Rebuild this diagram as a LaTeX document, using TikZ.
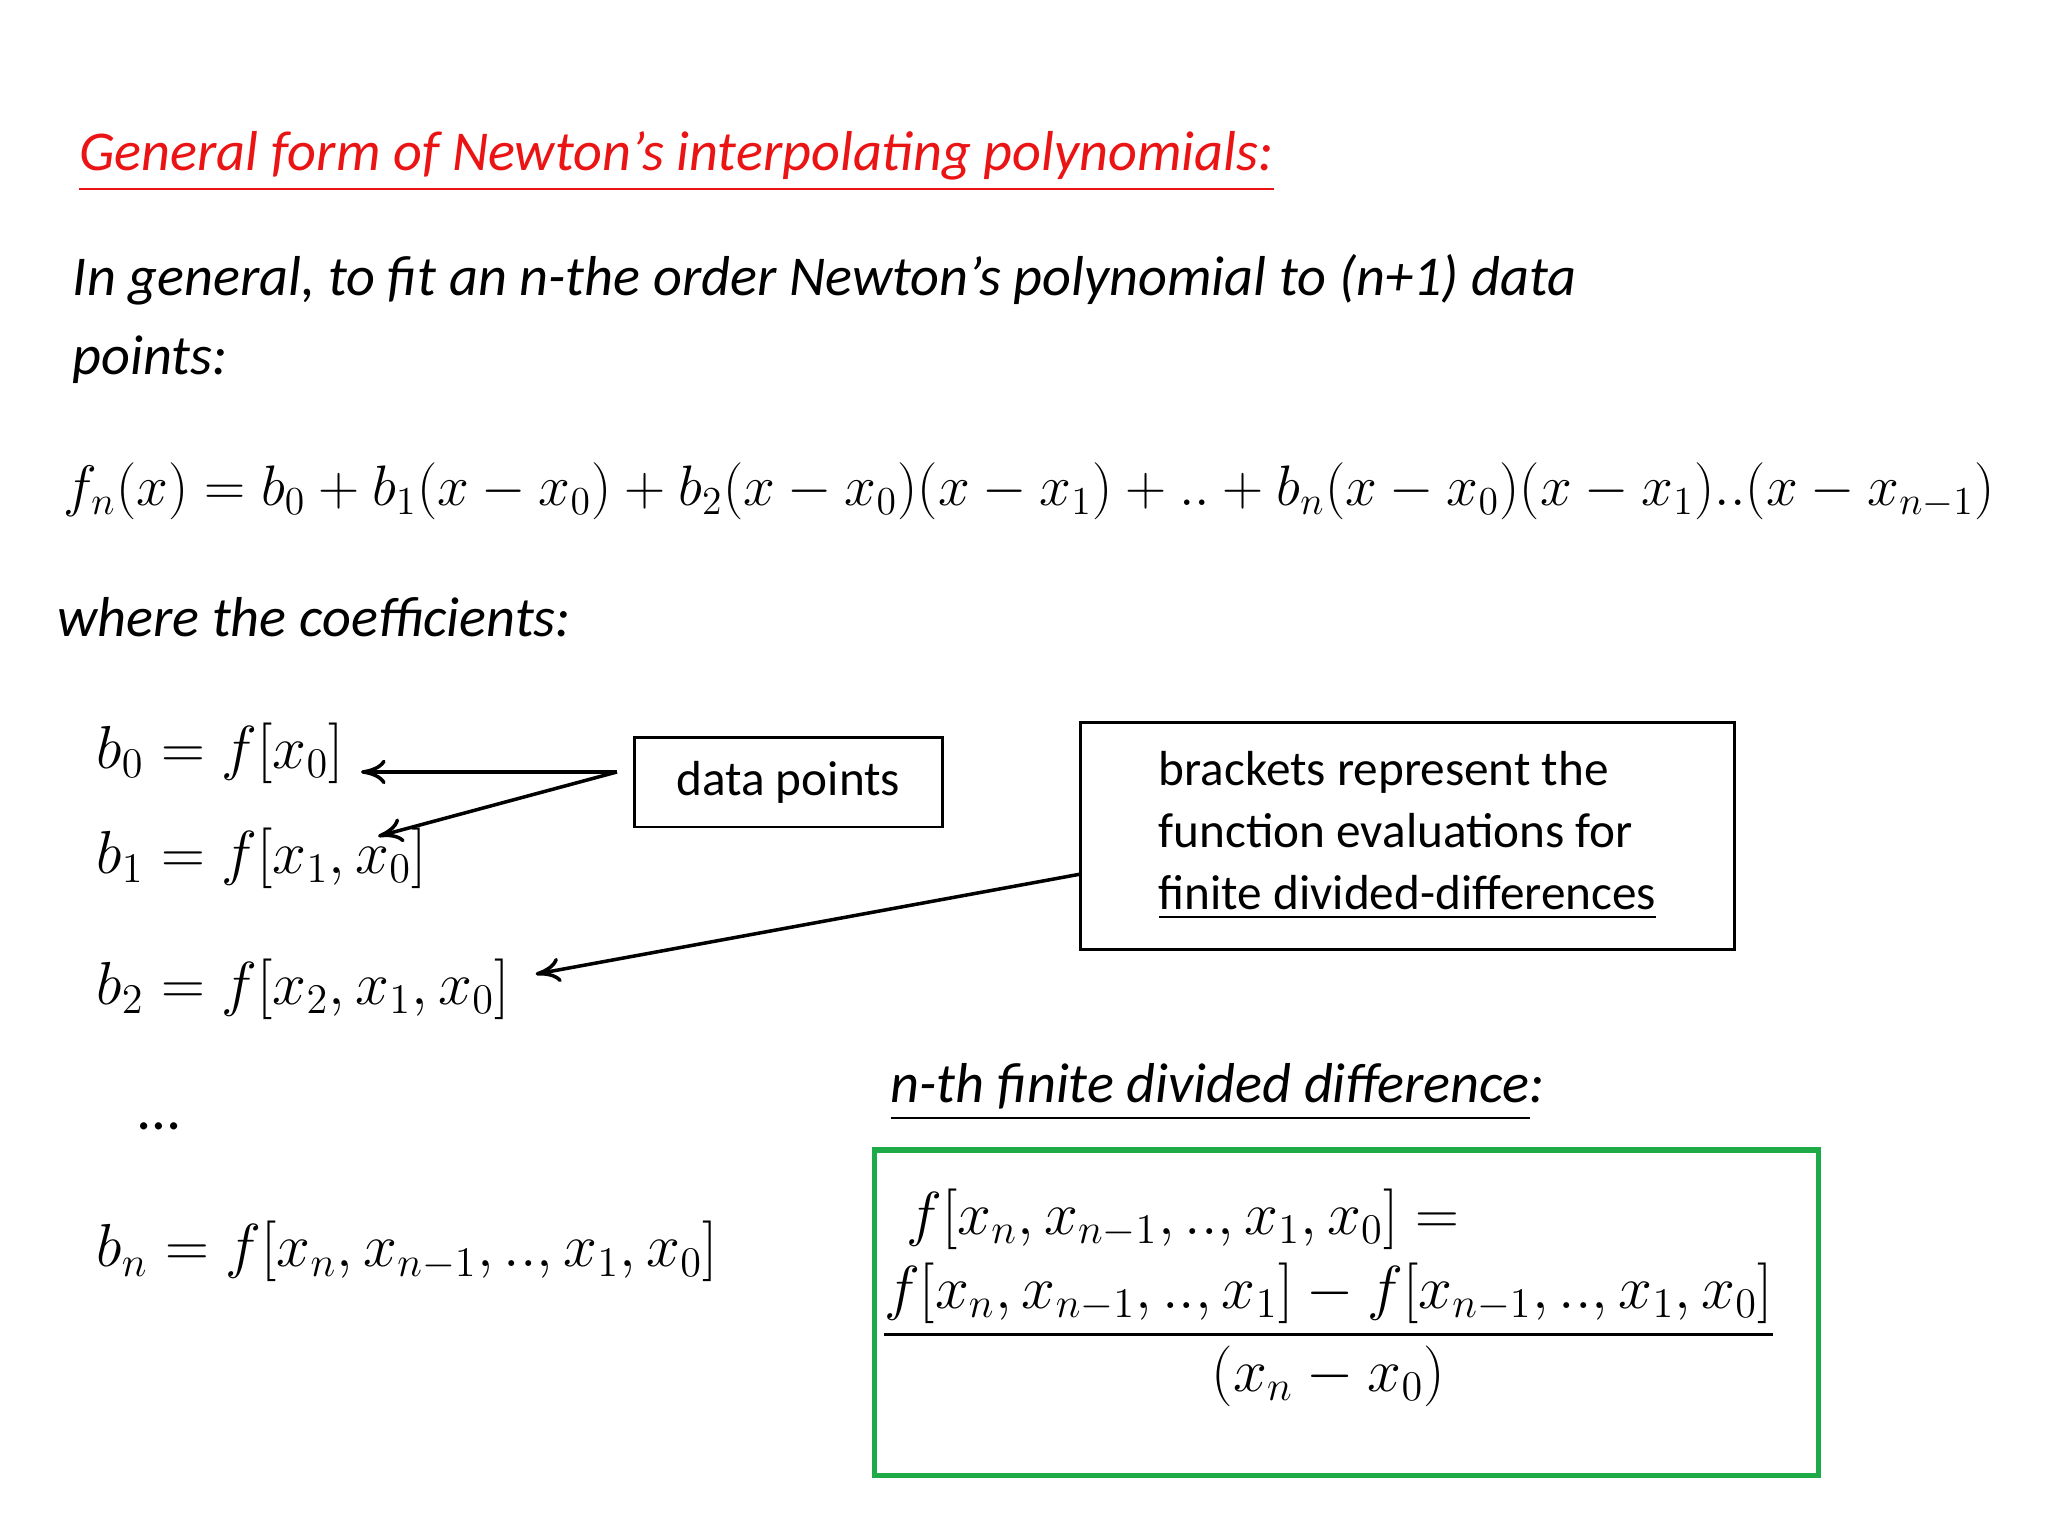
\documentclass[tikz,border=0pt]{standalone}
\usepackage{amsmath}
\usepackage{fontspec}
\setmainfont{Carlito}
\newcommand{\myul}[1]{\underline{#1}}
\usetikzlibrary{arrows.meta}
\definecolor{titlered}{RGB}{235,20,20}
\definecolor{boxgreen}{RGB}{30,170,70}
\tikzset{
  txt/.style={anchor=base west,inner sep=0pt},
  eq/.style={anchor=base west,inner sep=0pt,font=\fontsize{17}{20}\selectfont},
  plainbox/.style={draw,line width=0.8pt},
  arr/.style={-{To[length=7pt,width=7pt]},line width=1pt}
}
\begin{document}
\begin{tikzpicture}[x=0.013128cm,y=-0.013128cm]
\useasboundingbox (0,0) rectangle (1560,1170);
\node[txt,text=titlered,font=\fontsize{16}{19}\selectfont\itshape] (title) at (60,130) {\myul{General form of Newton’s interpolating polynomials:}};
\node[txt,font=\fontsize{16}{19}\selectfont\itshape] (gen1) at (55,225) {In general, to fit an n-the order Newton’s polynomial to (n+1) data};
\node[txt,font=\fontsize{16}{19}\selectfont\itshape] (gen2) at (55,285) {points:};
\node[eq] (main) at (48,385) {\resizebox{19.3cm}{!}{$f_n(x)=b_0+b_1(x-x_0)+b_2(x-x_0)(x-x_1)+..+b_n(x-x_0)(x-x_1)..(x-x_{n-1})$}};
\node[txt,font=\fontsize{16}{19}\selectfont\itshape] (where) at (43,485) {where the coefficients:};
\node[eq] (b0) at (73,585) {$b_0=f[x_0]$};
\node[eq] (b1) at (73,665) {$b_1=f[x_1,x_0]$};
\node[eq] (b2) at (73,765) {$b_2=f[x_2,x_1,x_0]$};
\node[eq] (dots) at (105,860) {\dots};
\node[eq] (bn) at (73,965) {$b_n=f[x_n,x_{n-1},.., x_1,x_0]$};
\node[plainbox,minimum width=235*0.013128cm,minimum height=68*0.013128cm,font=\fontsize{14}{17}\selectfont] (dp) at (600.5,596) {data points};
\node[plainbox,anchor=north west,minimum width=498*0.013128cm,minimum height=173*0.013128cm,align=left,inner xsep=16*0.013128cm,font=\fontsize{14}{17.6}\selectfont] (br) at (822,549) {brackets represent the\\function evaluations for\\\myul{finite divided-differences}};
\coordinate (dpL) at (470,588);
\coordinate (t0) at (275,588);
\coordinate (t1) at (288,637);
\coordinate (brL) at (822,666);
\coordinate (t2) at (408,742);
\draw[arr] (dpL) -- (t0);
\draw[arr] (dpL) -- (t1);
\draw[arr] (brL) -- (t2);
\node[txt,font=\fontsize{16}{19}\selectfont\itshape] (nth) at (678,840) {\myul{n-th finite divided difference}:};
\draw[boxgreen,line width=1.5pt] (666,876) rectangle (1385,1124);
\node[eq] (f1) at (690,940) {$f[x_n,x_{n-1},..,x_1,x_0]=$};
\node[eq,anchor=base] (frac) at (1012,1028) {$\dfrac{f[x_n,x_{n-1},..,x_1]-f[x_{n-1},..,x_1,x_0]}{(x_n-x_0)}$};
\end{tikzpicture}
\end{document}
